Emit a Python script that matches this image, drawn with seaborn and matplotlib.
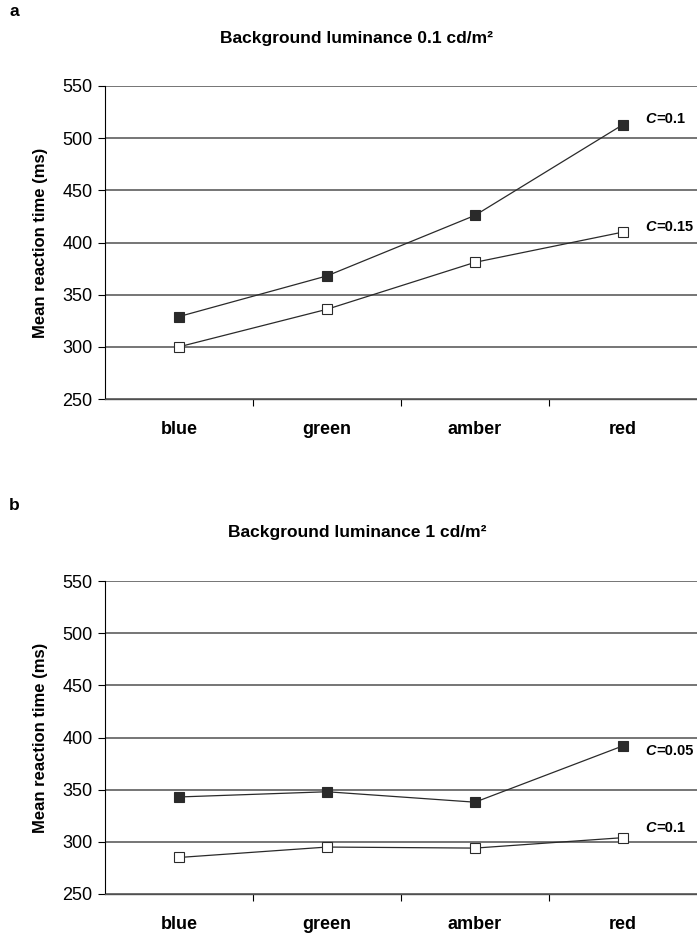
import matplotlib
matplotlib.use("Agg")
import matplotlib.pyplot as plt
import seaborn as sns
import pandas as pd

categories = ["blue", "green", "amber", "red"]

# Panel a: background luminance 0.1 cd/m2
a_c010 = [329, 368, 426, 513]
a_c015 = [300, 336, 381, 410]
# Panel b: background luminance 1 cd/m2
b_c005 = [343, 348, 338, 392]
b_c010 = [285, 295, 294, 304]

panel_titles = ["Background luminance 0.1 cd/m\u00b2", "Background luminance 1 cd/m\u00b2"]
panel_letters = ["a", "b"]
series_labels = [["0.1", "0.15"], ["0.05", "0.1"]]
yticks = [250, 300, 350, 400, 450, 500, 550]

sns.set_style("white")
plt.rcParams["font.family"] = ["Liberation Sans", "DejaVu Sans"]
plt.rcParams["text.color"] = "black"
plt.rcParams["axes.labelcolor"] = "black"
plt.rcParams["xtick.color"] = "black"
plt.rcParams["ytick.color"] = "black"

fig = plt.figure(figsize=(6.97, 9.35), dpi=100)
W, H = 697, 935

def axes_px(left, top, right, bottom):
    return fig.add_axes([left / W, 1 - bottom / H, (right - left) / W, (bottom - top) / H])

ax_a = axes_px(105, 86, 697, 399)
ax_b = axes_px(105, 581, 697, 894)

panels = [
    (ax_a, a_c010, a_c015, 86),
    (ax_b, b_c005, b_c010, 581),
]

dark = "#2a2a2a"
for i, (ax, filled, opened, top) in enumerate(panels):
    df_f = pd.DataFrame({"cat": categories, "rt": filled})
    df_o = pd.DataFrame({"cat": categories, "rt": opened})
    sns.lineplot(data=df_f, x="cat", y="rt", ax=ax, color=dark, lw=0.9,
                 marker="s", markersize=7.5, markerfacecolor=dark,
                 markeredgecolor=dark, markeredgewidth=0.8, zorder=3)
    sns.lineplot(data=df_o, x="cat", y="rt", ax=ax, color=dark, lw=0.9,
                 marker="s", markersize=7.5, markerfacecolor="white",
                 markeredgecolor=dark, markeredgewidth=0.8, zorder=3)
    ax.set_xlim(-0.5, 3.5)
    ax.set_ylim(250, 550)
    ax.set_yticks(yticks)
    ax.set_yticklabels([str(v) for v in yticks], fontsize=13)
    ax.set_xticks(range(len(categories)))
    ax.set_xticklabels(categories, fontsize=13, fontweight="bold")
    ax.set_xticks([0.5, 1.5, 2.5], minor=True)
    ax.tick_params(axis="x", which="major", length=0, pad=16)
    ax.tick_params(axis="x", which="minor", length=5, width=0.8, direction="out",
                   color="black", bottom=True)
    ax.tick_params(axis="y", which="major", length=5, width=0.8, direction="out",
                   color="black", left=True, pad=4)
    ax.set_xlabel("")
    ax.set_ylabel("Mean reaction time (ms)", fontsize=12, fontweight="bold", labelpad=10)
    for v in yticks:
        ax.axhline(v, color="#6a6a6a", lw=1.3, zorder=1)
    for s in ["top", "right"]:
        ax.spines[s].set_visible(False)
    ax.spines["left"].set_color("black")
    ax.spines["left"].set_linewidth(0.8)
    ax.spines["bottom"].set_color("#505050")
    ax.spines["bottom"].set_linewidth(1.0)

    # series labels at right end
    offs = [(0, 4), (0, 4)] if i == 0 else [(0, -4), (0, 7)]
    for vals, lab, (dx, dy) in zip([filled, opened], series_labels[i], offs):
        t = ax.annotate("C", xy=(3, vals[3]), xytext=(16 + dx, dy),
                        textcoords="offset points", fontsize=10.5, fontweight="bold",
                        fontstyle="italic", va="center", ha="left", annotation_clip=False)
        ax.annotate("=" + lab, xy=(1, 0.5), xycoords=t, xytext=(0.5, 0),
                    textcoords="offset points", fontsize=10.5, fontweight="bold",
                    va="center", ha="left", annotation_clip=False)

    fig.text(357 / W, 1 - (top - 48) / H, panel_titles[i], fontsize=12.5,
             fontweight="bold", ha="center", va="center")
    fig.text(14 / W, 1 - (top - 75) / H, panel_letters[i], fontsize=12.5,
             fontweight="bold", ha="center", va="center")

fig.savefig("out.png", dpi=100)
